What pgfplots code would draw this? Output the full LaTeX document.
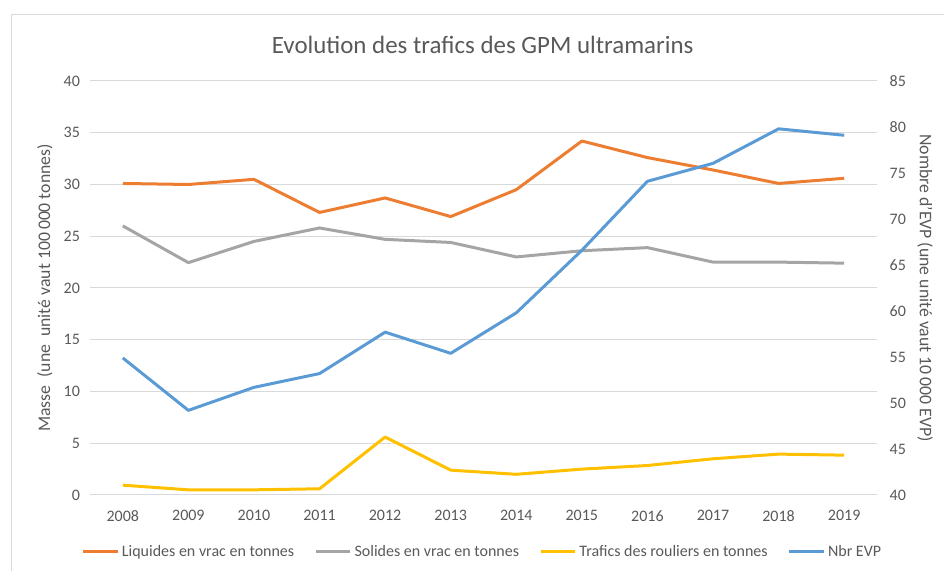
\documentclass[border=0pt]{standalone}
\usepackage{fontspec}
\setmainfont{Carlito}
\usepackage{pgfplots}
\pgfplotsset{compat=1.18}

\definecolor{liqu}{HTML}{ED7D31}
\definecolor{soli}{HTML}{A5A5A5}
\definecolor{roul}{HTML}{FFC000}
\definecolor{evp}{HTML}{5B9BD5}
\definecolor{txt}{HTML}{595959}
\definecolor{gridc}{HTML}{D9D9D9}

% 1 px of the reference = 0.75pt
\pgfplotsset{
  base/.style={
    at={(67.5pt,56.25pt)}, anchor=south west,
    scale only axis, width=590.25pt, height=310.5pt,
    xmin=2007.5, xmax=2019.5,
    xtick={2008,...,2019},
    axis line style={draw=none},
    major tick length=0pt,
    ticklabel style={font=\fontsize{12}{14}\selectfont, text=txt},
    /pgf/number format/assume math mode=true,
    /pgf/number format/set thousands separator={},
    every axis plot/.append style={line width=2.25pt, line join=round, mark=none},
  },
}

\begin{document}
\begin{tikzpicture}
\path[use as bounding box] (0,0) rectangle (708pt,427.5pt);
\draw[gridc, line width=0.75pt] (8.25pt,-2pt) -- (8.25pt,416.25pt) -- (712pt,416.25pt);

\begin{axis}[base,
  ymin=0, ymax=40, ytick={0,5,...,40},
  ymajorgrids=true, xmajorgrids=false,
  major grid style={draw=gridc, line width=0.75pt},
  xticklabel style={yshift=-8pt},
  yticklabel style={xshift=-4pt},
  ylabel={Masse\ \ (une\ \ unité vaut 100\,000 tonnes)},
  ylabel style={at={(axis description cs:-0.0572,0.5)}, anchor=center,
    font=\fontsize{13.3}{15}\selectfont, text=txt},
  legend columns=4,
  legend style={at={(axis description cs:0.499,-0.137)}, anchor=center,
    draw=none, fill=none, font=\fontsize{12}{14}\selectfont, text=txt,
    /tikz/every even column/.append style={column sep=13pt}},
  legend image code/.code={\draw[#1] (0pt,0pt) -- (26pt,0pt);},
]
\addplot[liqu] coordinates {
  (2008,30.1) (2009,30.0) (2010,30.5) (2011,27.3) (2012,28.7) (2013,26.9)
  (2014,29.5) (2015,34.2) (2016,32.6) (2017,31.4) (2018,30.1) (2019,30.6)};
\addlegendentry{Liquides en vrac en tonnes}
\addplot[soli] coordinates {
  (2008,26.0) (2009,22.45) (2010,24.5) (2011,25.8) (2012,24.7) (2013,24.4)
  (2014,23.0) (2015,23.6) (2016,23.9) (2017,22.5) (2018,22.5) (2019,22.4)};
\addlegendentry{Solides en vrac en tonnes}
\addplot[roul] coordinates {
  (2008,0.95) (2009,0.5) (2010,0.5) (2011,0.6) (2012,5.6) (2013,2.4)
  (2014,2.0) (2015,2.5) (2016,2.85) (2017,3.5) (2018,3.95) (2019,3.85)};
\addlegendentry{Trafics des rouliers en tonnes}
\addlegendimage{evp, line width=2.25pt}
\addlegendentry{Nbr EVP}
\end{axis}

\begin{axis}[base,
  ymin=40, ymax=85, ytick={40,45,...,85},
  axis y line*=right,
  xmajorgrids=false, ymajorgrids=false,
  xticklabels={},
  yticklabel style={xshift=6pt},
  ylabel={Nombre d'EVP (une unité vaut 10\,000 EVP)},
  ylabel style={at={(axis description cs:1.061,0.5)}, anchor=center, rotate=180,
    font=\fontsize{13.3}{15}\selectfont, text=txt},
]
\addplot[evp] coordinates {
  (2008,54.9) (2009,49.2) (2010,51.7) (2011,53.2) (2012,57.7) (2013,55.4)
  (2014,59.8) (2015,66.6) (2016,74.1) (2017,76.05) (2018,79.8) (2019,79.1)};
\end{axis}

\node[text=txt, font=\fontsize{18.7}{22}\selectfont] at (362pt,393.75pt)
  {Evolution des trafics des GPM ultramarins};
\end{tikzpicture}
\end{document}
